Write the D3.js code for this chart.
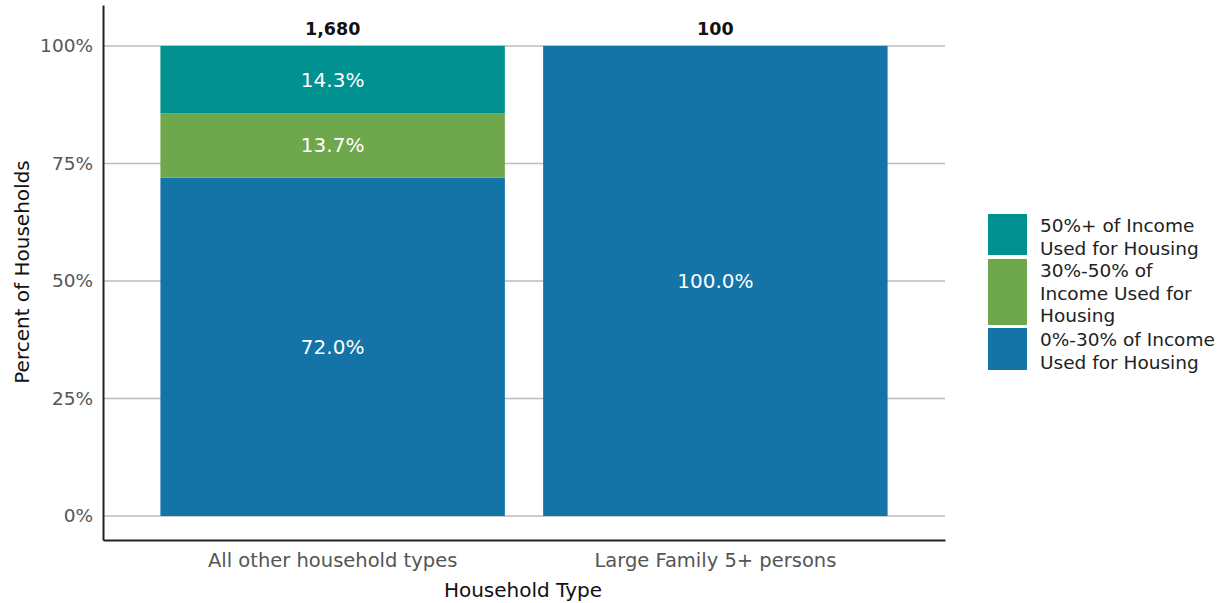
<!DOCTYPE html>
<html>
<head>
<meta charset="utf-8">
<script src="https://cdn.jsdelivr.net/npm/d3@7"></script>
<style>
  body { margin: 0; background: #fff; }
  text { font-family: "DejaVu Sans", sans-serif; }
</style>
</head>
<body>
<div id="chart"></div>
<script>
// chart values
const categories = ["All other household types", "Large Family 5+ persons"];
const seriesNames = [
  "0%-30% of Income Used for Housing",
  "30%-50% of Income Used for Housing",
  "50%+ of Income Used for Housing"
];
const low = [72.0, 100.0];
const mid = [13.7, 0];
const high = [14.3, 0];
const totals = ["1,680", "100"];
const yTicks = [0, 25, 50, 75, 100];
const legendLines = [
  ["50%+ of Income", "Used for Housing"],
  ["30%-50% of", "Income Used for", "Housing"],
  ["0%-30% of Income", "Used for Housing"]
];

const colors = ["#1474a8", "#6fa84c", "#009190"];

const width = 1225, height = 603;
const svg = d3.select("#chart").append("svg")
  .attr("width", width).attr("height", height);

const xScale = d3.scaleBand()
  .domain(categories)
  .range([103, 945])
  .paddingInner(0.1)
  .paddingOuter(0.15);

const yScale = d3.scaleLinear()
  .domain([-5.1, 108.7])
  .range([540, 5]);

// gridlines
svg.append("g")
  .selectAll("line")
  .data(yTicks)
  .enter()
  .append("line")
  .attr("x1", 103).attr("x2", 945)
  .attr("y1", d => yScale(d)).attr("y2", d => yScale(d))
  .attr("stroke", "#bdbdbd")
  .attr("stroke-width", 1.5);

// stacked data
const rows = categories.map((c, i) => ({ cat: c, s0: low[i], s1: mid[i], s2: high[i] }));
const stack = d3.stack().keys(["s0", "s1", "s2"]);
const layers = stack(rows);

const barGroup = svg.append("g");
layers.forEach((layer, li) => {
  barGroup.append("g")
    .selectAll("rect")
    .data(layer.filter(d => d[1] - d[0] > 0))
    .enter()
    .append("rect")
    .attr("x", d => xScale(d.data.cat))
    .attr("width", xScale.bandwidth())
    .attr("y", d => yScale(d[1]))
    .attr("height", d => yScale(d[0]) - yScale(d[1]))
    .attr("fill", colors[li]);

  barGroup.append("g")
    .selectAll("text")
    .data(layer.filter(d => d[1] - d[0] > 0))
    .enter()
    .append("text")
    .attr("x", d => xScale(d.data.cat) + xScale.bandwidth() / 2)
    .attr("y", d => (yScale(d[0]) + yScale(d[1])) / 2)
    .attr("dy", "0.35em")
    .attr("text-anchor", "middle")
    .attr("font-size", "20px")
    .attr("fill", "#fff")
    .text(d => (d[1] - d[0]).toFixed(1) + "%");
});

// totals above bars
svg.append("g")
  .selectAll("text")
  .data(categories)
  .enter()
  .append("text")
  .attr("x", d => xScale(d) + xScale.bandwidth() / 2)
  .attr("y", yScale(100) - 11)
  .attr("text-anchor", "middle")
  .attr("font-size", "17.5px")
  .attr("font-weight", "bold")
  .attr("fill", "#111")
  .text((d, i) => totals[i]);

// y axis
const yAxis = svg.append("g")
  .attr("transform", "translate(103,0)")
  .call(d3.axisLeft(yScale).tickValues(yTicks).tickSize(0).tickPadding(10)
    .tickFormat(d => d + "%"));
yAxis.select(".domain").attr("stroke", "#222").attr("stroke-width", 2);
yAxis.selectAll("text")
  .attr("font-size", "18.5px")
  .attr("fill", "#555")
  .style("font-family", "DejaVu Sans, sans-serif");

// x axis
const xAxis = svg.append("g")
  .attr("transform", "translate(0,540)")
  .call(d3.axisBottom(xScale).tickSize(0).tickPadding(13));
xAxis.select(".domain").attr("stroke", "#222").attr("stroke-width", 2);
xAxis.selectAll("text")
  .attr("font-size", "19.5px")
  .attr("fill", "#555")
  .style("font-family", "DejaVu Sans, sans-serif");

// axis titles
svg.append("text")
  .attr("transform", "translate(29, 272) rotate(-90)")
  .attr("text-anchor", "middle")
  .attr("font-size", "20px")
  .attr("fill", "#111")
  .text("Percent of Households");

svg.append("text")
  .attr("x", 523)
  .attr("y", 597)
  .attr("text-anchor", "middle")
  .attr("font-size", "20px")
  .attr("fill", "#111")
  .text("Household Type");

// legend
const legendBoxes = [
  { y: 214, h: 41 },
  { y: 259, h: 66 },
  { y: 328, h: 42 }
];
const legend = svg.append("g");
legendLines.forEach((lines, i) => {
  const box = legendBoxes[i];
  legend.append("rect")
    .attr("x", 988).attr("y", box.y)
    .attr("width", 39).attr("height", box.h)
    .attr("fill", colors[2 - i]);
  legend.append("text")
    .attr("x", 1040)
    .attr("y", box.y + 18)
    .attr("font-size", "18.5px")
    .attr("fill", "#222")
    .selectAll("tspan")
    .data(lines)
    .enter()
    .append("tspan")
    .attr("x", 1040)
    .attr("dy", (d, j) => j === 0 ? 0 : 22.5)
    .text(d => d);
});
</script>
</body>
</html>
